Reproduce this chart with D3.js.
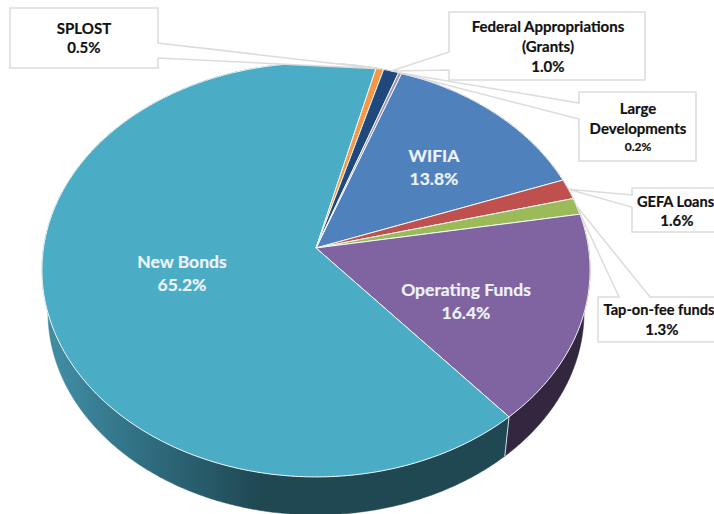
<!DOCTYPE html>
<html><head><meta charset="utf-8">
<script src="https://cdnjs.cloudflare.com/ajax/libs/d3/7.8.5/d3.min.js"></script>
<style>html,body{margin:0;padding:0;background:#fff;overflow:hidden}svg{display:block}
text{font-family:Lato,Carlito,sans-serif;font-weight:700;text-anchor:middle;stroke:currentColor;stroke-width:.2}</style>
</head><body><svg id="c" width="714" height="514"></svg>
<script>
const categories=["WIFIA","GEFA Loans","Tap-on-fee funds","Operating Funds","New Bonds","SPLOST","Federal Appropriations (Grants)","Large Developments"];
const values=[13.8,1.6,1.3,16.4,65.2,0.5,1.0,0.2];
const colors=["#4f81bd","#c0504d","#9bbb59","#8064a2","#4bacc6","#f79646","#1f497d","#9d93b5"];
const rimColors=["#2c4a6e","#6e2c2a","#566a30","#33263f","#1f4852","#8a5226","#102a48","#555"];

const deg=Math.PI/180, k=0.1062, a=272.5, b=204.6, cx=316, cy=248;
const rimScale=0.978, rimDrop=43;
const startDeg=20.2;
const pie=d3.pie().sort(null).value(d=>d).startAngle(startDeg*deg).endAngle((startDeg+360)*deg);
const arcs=pie(values);
const proj=(t,r=1,s=1,drop=0)=>{const u=r*Math.sin(t),v=-r*Math.cos(t),w=1-k*v;
  return [cx+s*a*u/w, cy+drop+s*b*v/w];};
const samples=(p)=>{const n=Math.max(2,Math.ceil((p.endAngle-p.startAngle)/(0.5*deg)));
  return d3.range(n+1).map(i=>p.startAngle+(p.endAngle-p.startAngle)*i/n);};
const line=d3.line().curve(d3.curveLinear);
const svg=d3.select("#c");

const defs=svg.append("defs");
const g=defs.append("linearGradient").attr("id","rimNB").attr("gradientUnits","userSpaceOnUse")
  .attr("x1",60).attr("x2",260).attr("y1",0).attr("y2",0);
g.append("stop").attr("offset",0).attr("stop-color","#3f8ba2");
g.append("stop").attr("offset",0.45).attr("stop-color","#2f6c7f");
g.append("stop").attr("offset",1).attr("stop-color","#1f4852");

// rim
svg.append("g").selectAll("path").data(arcs).join("path")
  .attr("d",p=>{const ts=samples(p);
    const top=ts.map(t=>proj(t)), bot=ts.slice().reverse().map(t=>proj(t,1,rimScale,rimDrop));
    return line(top.concat(bot))+"Z";})
  .attr("fill",(p,i)=>i===4?"url(#rimNB)":rimColors[i])
  .attr("stroke",(p,i)=>i===4?"url(#rimNB)":rimColors[i]).attr("stroke-width",0.5);
const seam=arcs[3].endAngle;
svg.append("path").attr("d",line([proj(seam),proj(seam,1,rimScale,rimDrop)]))
  .attr("stroke","#d5dfe2").attr("stroke-width",1).attr("fill","none");

// top faces
svg.append("g").selectAll("path").data(arcs).join("path")
  .attr("d",p=>line([proj(0,0)].concat(samples(p).map(t=>proj(t))))+"Z")
  .attr("fill",(p,i)=>colors[i]).attr("stroke","#f4f7f8").attr("stroke-width",1).attr("stroke-linejoin","round");

// callouts
const callouts=[
 {i:7,box:[579,92,696,161],l:[[579,119],[579,103]],lines:[["Large",638,114,15],["Developments",638,134,15],["0.2%",638,151,12]]},
 {i:5,box:[10,8,158,68],l:[[158,58],[158,43]],right:true,lines:[["SPLOST",84,34,15],["0.5%",84,53,15]]},
 {i:6,box:[449,12,645,80],l:[[449,70],[449,52]],lines:[["Federal Appropriations",548,32,15],["(Grants)",548,52,15],["1.0%",548,72,15]]},
 {i:1,box:[632,188,730,232],l:[[632,207],[632,195]],lines:[["GEFA Loans",675.5,207,14.6],["1.6%",677,226,15]]},
 {i:2,box:[598,297,730,342],l:[[650,297],[619,297]],top:true,lines:[["Tap-on-fee funds",659,315,14.6],["1.3%",662,335,15]]}
];
const cg=svg.append("g");
callouts.forEach(c=>{
  const p=arcs[c.i], tip=proj((p.startAngle+p.endAngle)/2);
  const [x0,y0,x1,y1]=c.box;
  let pts;
  if(c.top) pts=[[x0,y0],c.l[1],tip,c.l[0],[x1,y0],[x1,y1],[x0,y1]];
  else if(c.right) pts=[[x0,y0],[x1,y0],c.l[1],tip,c.l[0],[x1,y1],[x0,y1]];
  else pts=[[x0,y0],[x1,y0],[x1,y1],[x0,y1],c.l[0],tip,c.l[1]];
  cg.append("path").attr("d",line(pts)+"Z").attr("fill","#fff").attr("stroke","#dcdcdc").attr("stroke-width",1.5);
  c.lines.forEach(l=>cg.append("text").attr("x",l[1]).attr("y",l[2]).attr("font-size",l[3]).attr("fill","#111").attr("color","#111").text(l[0]));
});

// inner labels
const inner=[
 {x:434,lines:[["WIFIA",162],["13.8%",185]]},
 {x:466,lines:[["Operating Funds",296],["16.4%",319]]},
 {x:182,lines:[["New Bonds",268],["65.2%",291]]}
];
inner.forEach(o=>o.lines.forEach(l=>svg.append("text").attr("x",o.x).attr("y",l[1]).attr("font-size",17.5).attr("fill","#eef3f8").attr("color","#eef3f8").text(l[0])));
</script></body></html>
